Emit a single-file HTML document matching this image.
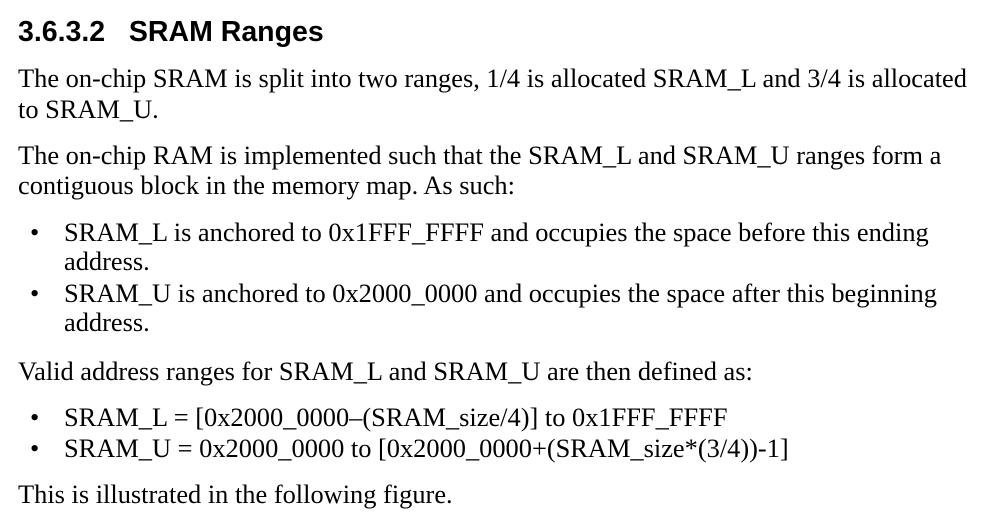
<!DOCTYPE html>
<html><head><meta charset="utf-8"><style>
body{margin:0;width:998px;height:527px;background:#fff;position:relative;overflow:hidden;color:#000}
div{position:absolute;white-space:nowrap;line-height:30px}
.t{font-family:"Liberation Serif",serif;font-size:26.4px;left:18px}
.b{left:30px}
.i{left:64px}
h1{position:absolute;margin:0;left:18px;top:15px;font-family:"Liberation Sans",sans-serif;font-weight:bold;font-size:28.5px;line-height:34px}
</style></head><body>
<h1>3.6.3.2&nbsp;&nbsp;&nbsp;SRAM Ranges</h1>
<div class="t" style="top:63px">The on-chip SRAM is split into two ranges, 1/4 is allocated SRAM_L and 3/4 is allocated</div>
<div class="t" style="top:94px">to SRAM_U.</div>
<div class="t" style="top:140px">The on-chip RAM is implemented such that the SRAM_L and SRAM_U ranges form a</div>
<div class="t" style="top:170px">contiguous block in the memory map. As such:</div>
<div class="t b" style="top:217px">•</div>
<div class="t i" style="top:217px">SRAM_L is anchored to 0x1FFF_FFFF and occupies the space before this ending</div>
<div class="t i" style="top:246px">address.</div>
<div class="t b" style="top:278px">•</div>
<div class="t i" style="top:278px">SRAM_U is anchored to 0x2000_0000 and occupies the space after this beginning</div>
<div class="t i" style="top:307px">address.</div>
<div class="t" style="top:356px">Valid address ranges for SRAM_L and SRAM_U are then defined as:</div>
<div class="t b" style="top:402px">•</div>
<div class="t i" style="top:402px">SRAM_L = [0x2000_0000–(SRAM_size/4)] to 0x1FFF_FFFF</div>
<div class="t b" style="top:433px">•</div>
<div class="t i" style="top:433px">SRAM_U = 0x2000_0000 to [0x2000_0000+(SRAM_size*(3/4))-1]</div>
<div class="t" style="top:479px">This is illustrated in the following figure.</div>
</body></html>
